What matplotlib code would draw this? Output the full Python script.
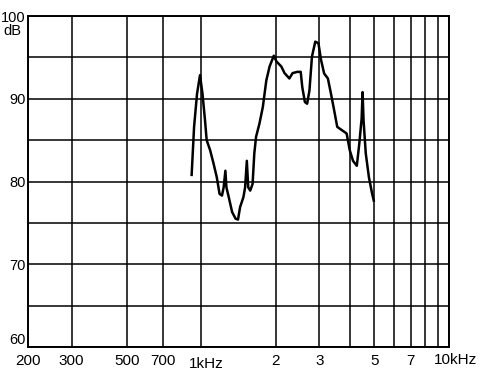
import matplotlib
matplotlib.use("Agg")
import matplotlib.pyplot as plt
import matplotlib.transforms as mtransforms

plt.rcParams['font.family'] = ['Liberation Sans', 'DejaVu Sans']

# Frequency response (Hz, dB)
freq = [915, 936, 962, 989, 1012, 1036, 1052, 1086, 1121, 1156, 1186, 1213, 1232,
        1252, 1264, 1292, 1333, 1377, 1408, 1435, 1480, 1504, 1528, 1548, 1577,
        1612, 1638, 1665, 1718, 1773, 1831, 1888, 1963, 2013, 2105, 2169, 2269,
        2337, 2445, 2521, 2558, 2621, 2676, 2734, 2799, 2886, 2973, 3045, 3134,
        3245, 3340, 3440, 3540, 3698, 3863, 3975, 4098, 4246, 4346, 4440, 4480,
        4520, 4614, 4752, 4898, 4969]
db = [80.8, 86.6, 90.6, 92.85, 90.6, 87.4, 85.0, 83.8, 82.2, 80.5, 78.5, 78.3, 79.3,
      81.3, 79.3, 78.1, 76.3, 75.5, 75.4, 76.9, 78.1, 79.3, 82.5, 79.3, 78.9,
      79.7, 83.4, 85.4, 87.0, 89.0, 92.2, 93.9, 95.2, 94.5, 93.9, 93.1, 92.45,
      93.1, 93.25, 93.25, 91.4, 89.6, 89.4, 91.0, 95.1, 96.9, 96.7, 94.7, 93.05,
      92.45, 90.6, 88.6, 86.6, 86.2, 85.8, 83.8, 82.5, 81.9, 84.6, 87.6, 90.8,
      87.4, 83.4, 80.5, 78.5, 77.7]

x_ticks = [200, 300, 500, 700, 1000, 2000, 3000, 5000, 7000, 10000]
x_labels = ['200', '300', '500', '700', '1kHz', '2', '3', '5', '7', '10kHz']
x_minor = [4000, 6000, 8000, 9000]
y_ticks = [60, 70, 80, 90, 100]
y_labels = ['60', '70', '80', '90', '100']
y_minor = [65, 75, 85, 95]

FS = 11

fig = plt.figure(figsize=(5.0, 3.79), dpi=100)
ax = fig.add_axes([28/500, 1-347/379, (449-28)/500, (347-16)/379])
ax.set_xscale('log')
ax.set_xlim(200, 10000)
ax.set_ylim(60, 100)

ax.set_xticks(x_ticks)
ax.set_xticks(x_minor, minor=True)
ax.set_yticks(y_ticks)
ax.set_yticks(y_minor, minor=True)
ax.set_xticklabels([l if 'k' not in l else '' for l in x_labels])
ax.xaxis.set_minor_formatter(matplotlib.ticker.NullFormatter())
ax.set_yticklabels(y_labels)
ax.tick_params(which='both', length=0)
ax.tick_params(axis='x', pad=5, labelsize=FS)
ax.tick_params(axis='y', pad=1.5, labelsize=10.5)

# nudge the "60" label slightly upward like the reference
for lab in ax.get_yticklabels():
    if lab.get_text() == '60':
        lab.set_va('bottom')

ax.grid(which='both', color='black', linewidth=1.1)
ax.set_axisbelow(True)
for s in ax.spines.values():
    s.set_linewidth(1.4)
    s.set_color('black')

ax.plot(freq, db, color='black', linewidth=1.8, solid_joinstyle='round')

# special labels with kHz
trans = mtransforms.blended_transform_factory(ax.transData, ax.transAxes)
for f, l in zip(x_ticks, x_labels):
    if 'k' in l:
        off = mtransforms.ScaledTranslation(-12/100 if f == 1000 else -15/100, 0, fig.dpi_scale_trans)
        ax.text(f, -0.03 if f == 1000 else -0.018, l, transform=trans + off,
                ha='left', va='top', fontsize=FS)

ax.text(-0.016, 0.975, 'dB', transform=ax.transAxes, ha='right', va='top', fontsize=10.5)

fig.savefig('out.png', dpi=100)
